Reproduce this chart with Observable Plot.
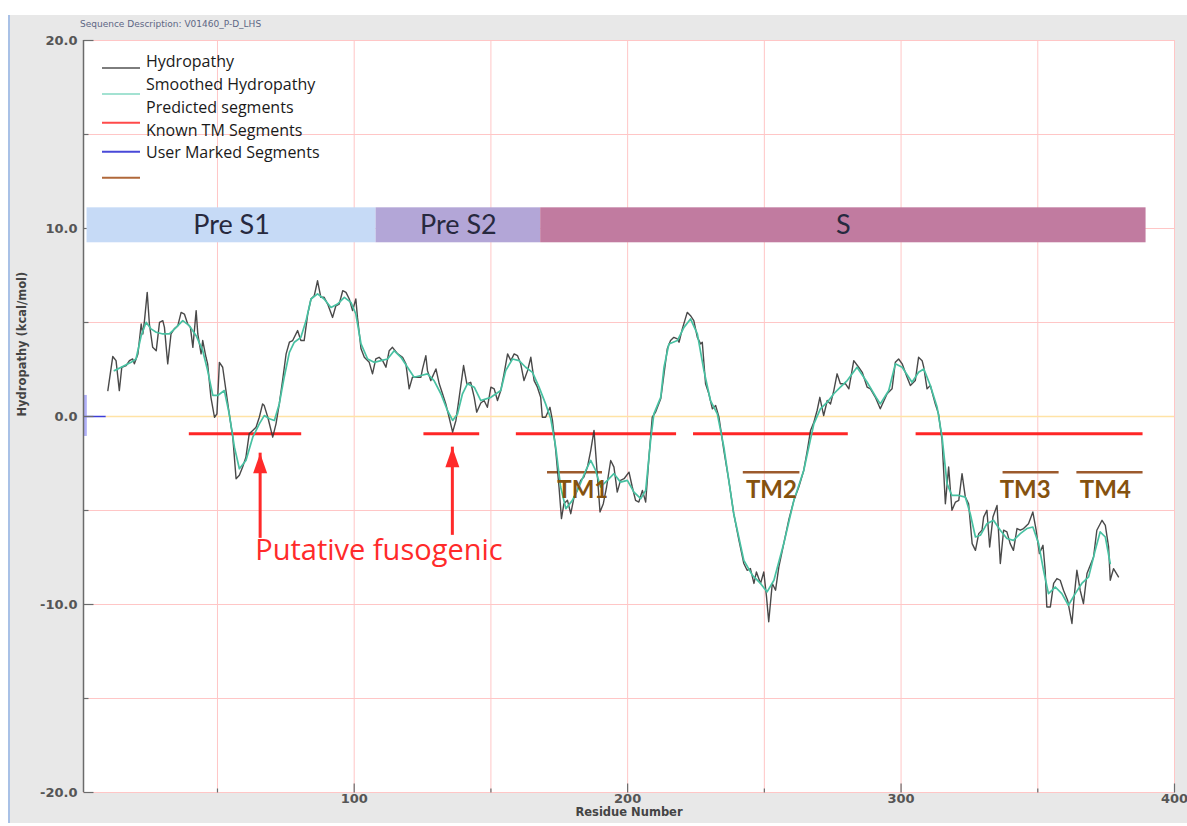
<!DOCTYPE html>
<html>
<head>
<meta charset="utf-8">
<script src="https://cdn.jsdelivr.net/npm/d3@7"></script>
<script src="https://cdn.jsdelivr.net/npm/@observablehq/plot@0.6"></script>
<style>
  html, body { margin: 0; padding: 0; background: #fff; }
  #wrap { position: relative; width: 1187px; height: 826px; overflow: hidden; background: #fff; }
  #panel { position: absolute; left: 8px; top: 15px; width: 1179px; height: 808px; background: #e8e8e8; border-left: 2px solid #a9c1e6; box-sizing: border-box; }
  #desc { position: absolute; left: 80px; top: 19px; font: 9px "DejaVu Sans", sans-serif; color: #5d6684; white-space: nowrap; }
  #chart { position: absolute; left: 0; top: 0; }
  #legend { position: absolute; left: 0; top: 0; pointer-events: none; }
</style>
</head>
<body>
<div id="wrap">
  <div id="panel"></div>
  <div id="desc"></div>
  <div id="chart"></div>
  <svg id="legend" width="400" height="200"></svg>
</div>
<script>
// ---------------- data ----------------
const description = "Sequence Description: V01460_P-D_LHS";
const xTitle = "Residue Number";
const yTitle = "Hydropathy (kcal/mol)";
const xTickLabels = [100, 200, 300, 400];
const xMinorTicks = [50, 150, 250, 350];
const yTickLabels = [-20, -10, 0, 10, 20];
const yMinorTicks = [-15, -5, 5, 15];

// raw hydropathy [residue, kcal/mol]
const hydropathy = [[9.9,1.38],[11.7,3.19],[12.9,2.97],[14.1,1.38],[15.0,2.62],[16.6,2.71],[17.8,2.97],[19.0,3.06],[19.6,2.80],[20.9,3.33],[22.1,4.92],[22.7,4.39],[23.3,5.10],[24.3,6.60],[25.1,4.92],[26.3,3.68],[27.6,3.50],[28.8,5.01],[30.0,5.10],[30.6,4.74],[31.8,2.80],[33.0,4.39],[34.2,4.66],[35.5,4.83],[36.7,5.54],[37.9,5.45],[39.1,4.92],[40.1,4.74],[41.0,3.68],[42.2,5.63],[42.8,4.39],[44.0,3.33],[44.6,4.04],[45.8,3.15],[46.4,2.80],[47.6,1.02],[48.9,-0.04],[49.8,0.14],[50.7,2.88],[51.9,2.62],[53.1,1.38],[54.3,0.14],[55.6,-1.10],[56.8,-3.31],[58.0,-3.13],[59.2,-2.69],[60.4,-2.16],[61.6,-0.92],[62.9,-0.74],[64.1,-0.57],[65.3,-0.04],[66.5,0.67],[67.1,0.58],[68.4,-0.04],[70.2,-1.10],[71.4,-0.39],[72.6,0.67],[73.8,1.91],[75.1,3.33],[76.3,3.95],[77.5,4.04],[79.3,4.57],[80.5,4.04],[81.7,4.04],[83.0,5.45],[84.2,6.25],[85.4,6.43],[86.6,7.22],[87.8,6.34],[89.0,6.34],[90.3,5.98],[92.1,5.27],[93.3,5.89],[94.5,5.98],[95.8,6.69],[97.0,6.60],[98.2,6.25],[99.4,5.63],[100.6,6.25],[101.2,5.27],[102.5,3.60],[103.7,3.15],[105.5,2.88],[106.7,2.27],[107.9,3.06],[109.1,3.15],[110.4,2.97],[111.6,2.62],[112.8,3.50],[114.0,3.68],[115.9,3.33],[117.7,3.15],[118.9,2.80],[120.1,1.47],[121.3,2.09],[123.2,2.09],[124.4,2.09],[125.0,2.53],[126.2,3.24],[126.8,2.44],[128.0,1.91],[129.9,2.53],[131.1,1.74],[132.3,1.21],[133.5,0.67],[134.7,-0.04],[136.0,-0.83],[137.2,-0.21],[138.4,1.02],[140.0,2.71],[141.2,1.74],[142.6,1.82],[143.9,1.02],[144.8,0.23],[146.3,0.72],[147.5,0.85],[148.7,0.49],[150.0,1.56],[151.2,1.47],[152.4,0.85],[153.6,1.38],[154.8,2.27],[156.1,3.33],[157.3,2.97],[158.5,3.33],[159.7,3.24],[160.9,2.80],[162.1,1.91],[163.4,2.44],[164.6,3.15],[165.8,1.91],[167.0,1.56],[168.2,1.02],[168.8,-0.04],[170.0,-0.04],[171.6,0.49],[172.5,-0.21],[173.7,-1.81],[174.9,-3.75],[175.8,-5.43],[176.7,-4.64],[178.0,-4.46],[179.2,-5.17],[180.4,-4.29],[181.6,-3.93],[182.8,-3.40],[184.0,-3.22],[185.3,-2.69],[186.5,-1.81],[187.7,-0.74],[188.7,-2.69],[189.9,-5.08],[191.1,-4.64],[192.3,-3.75],[193.8,-2.34],[195.0,-2.69],[196.2,-4.02],[197.4,-3.40],[198.7,-3.31],[200.5,-2.96],[201.7,-3.75],[202.9,-4.46],[204.1,-4.55],[205.4,-3.93],[206.6,-4.55],[207.8,-2.16],[209.0,-0.04],[210.2,0.23],[212.1,0.94],[213.3,2.27],[214.5,3.60],[215.7,4.04],[216.9,4.21],[218.2,4.13],[218.8,3.95],[220.0,4.66],[221.8,5.54],[223.0,5.36],[224.2,5.10],[225.5,4.21],[226.7,3.86],[227.3,3.95],[228.5,1.74],[229.7,1.21],[231.0,0.41],[232.2,0.58],[233.4,-0.04],[235.2,-1.81],[237.0,-3.40],[238.8,-5.17],[240.7,-6.58],[242.5,-7.82],[243.7,-8.18],[244.9,-8.09],[246.2,-8.88],[247.1,-8.27],[248.6,-8.88],[249.8,-8.27],[250.8,-9.60],[251.6,-10.92],[252.9,-8.88],[254.1,-9.24],[255.3,-8.00],[257.1,-6.76],[258.9,-5.52],[260.8,-4.46],[262.6,-3.75],[264.4,-2.87],[265.7,-1.81],[266.9,-0.74],[268.1,-0.30],[269.3,0.32],[270.3,1.02],[271.7,0.05],[273.0,0.85],[274.2,0.67],[275.4,1.38],[276.6,2.27],[277.8,1.74],[279.7,1.74],[280.9,1.47],[282.7,2.97],[284.5,2.62],[285.8,2.35],[287.6,1.56],[288.8,1.47],[290.6,1.02],[292.4,0.41],[294.9,1.21],[296.7,1.47],[297.9,2.88],[299.1,3.06],[300.4,2.80],[302.2,2.09],[303.4,1.65],[305.2,1.91],[306.4,3.15],[307.7,2.97],[308.3,2.62],[309.5,1.47],[310.7,1.65],[312.5,0.67],[313.7,0.14],[315.0,-1.27],[316.2,-4.64],[317.4,-2.69],[318.6,-4.99],[319.9,-4.55],[321.1,-4.46],[322.3,-3.04],[323.5,-4.29],[324.7,-4.64],[326.0,-6.76],[327.2,-7.12],[328.4,-6.23],[329.6,-6.05],[330.2,-5.35],[331.4,-4.99],[332.4,-6.94],[333.6,-5.35],[335.1,-4.73],[336.3,-7.82],[337.5,-6.05],[338.7,-6.14],[339.9,-6.76],[341.1,-7.12],[342.4,-5.96],[343.6,-6.05],[344.8,-5.96],[346.6,-5.70],[348.2,-5.08],[349.4,-6.05],[350.6,-7.29],[351.9,-6.85],[352.7,-8.18],[353.3,-10.13],[354.6,-10.13],[355.8,-8.88],[357.0,-8.62],[358.2,-8.71],[359.4,-9.24],[360.9,-9.77],[362.5,-11.01],[363.3,-9.60],[364.3,-8.18],[365.5,-9.24],[366.7,-9.95],[368.0,-8.35],[369.2,-7.91],[370.4,-7.47],[371.6,-6.05],[373.5,-5.52],[374.7,-5.79],[375.9,-6.94],[376.5,-8.71],[377.7,-8.09],[379.5,-8.53]];

// smoothed hydropathy [residue, kcal/mol]
const smoothed = [[12.3,2.44],[14.8,2.62],[18.4,2.88],[20.2,3.06],[22.1,4.30],[23.9,5.01],[25.7,4.66],[27.6,4.48],[30.0,4.39],[32.4,4.39],[34.9,4.74],[37.3,5.10],[39.7,4.83],[42.2,4.30],[44.6,3.50],[46.4,2.44],[48.3,1.12],[50.1,1.12],[52.5,1.38],[54.3,0.14],[56.2,-1.63],[58.0,-2.78],[60.4,-2.34],[62.9,-1.10],[65.3,-0.39],[67.1,0.05],[69.0,-0.12],[70.8,-0.21],[72.6,0.67],[74.4,2.09],[76.3,3.41],[78.1,3.95],[80.5,4.21],[82.4,5.10],[84.2,6.25],[86.6,6.52],[89.0,6.25],[91.5,5.80],[93.9,5.98],[96.4,6.34],[98.8,6.07],[100.6,5.45],[102.5,3.86],[104.9,3.06],[107.3,2.88],[109.8,2.97],[112.2,3.06],[114.6,3.50],[117.1,3.15],[119.5,2.62],[121.9,2.09],[124.4,2.18],[126.8,2.27],[129.2,1.91],[131.7,1.21],[134.1,0.32],[136.0,-0.21],[137.8,0.14],[139.6,1.21],[141.4,1.74],[143.9,1.56],[146.3,0.85],[150.0,1.02],[153.6,1.38],[155.4,2.44],[157.9,3.06],[160.3,2.97],[162.7,2.62],[165.2,2.35],[167.6,1.56],[170.0,0.67],[171.9,-0.12],[173.7,-1.63],[175.5,-3.75],[177.4,-4.90],[179.8,-4.46],[182.2,-3.75],[184.7,-2.87],[186.5,-2.34],[188.3,-2.87],[190.1,-3.75],[192.6,-3.40],[195.0,-3.04],[197.4,-3.49],[199.9,-3.40],[202.3,-4.02],[204.8,-4.37],[206.6,-3.93],[208.4,-1.27],[209.6,0.14],[212.1,1.02],[213.3,2.62],[215.1,3.86],[218.2,4.04],[220.6,4.74],[223.0,5.19],[225.5,4.39],[227.9,2.44],[230.3,0.85],[232.8,0.14],[235.2,-1.63],[238.8,-5.17],[242.5,-7.65],[245.6,-8.44],[248.6,-8.88],[251.0,-9.33],[253.5,-8.71],[257.1,-6.76],[260.8,-4.46],[264.4,-2.87],[268.1,-0.39],[270.5,0.41],[273.0,0.76],[275.4,1.21],[277.8,1.56],[280.3,1.91],[283.9,2.62],[287.6,1.82],[291.2,0.94],[292.4,0.67],[295.5,1.38],[297.9,2.80],[300.4,2.62],[304.0,1.82],[306.4,2.35],[308.3,2.53],[310.7,1.65],[313.2,0.49],[315.0,-1.10],[316.8,-3.57],[318.6,-4.20],[321.1,-4.20],[323.5,-4.29],[325.3,-5.17],[327.2,-6.41],[329.0,-6.32],[331.4,-5.70],[333.8,-5.52],[336.3,-6.05],[338.7,-6.49],[341.1,-6.59],[343.6,-6.23],[346.0,-5.96],[348.2,-5.88],[350.3,-6.76],[352.1,-8.18],[353.9,-9.42],[356.4,-9.07],[358.8,-9.42],[361.2,-10.04],[363.7,-9.42],[366.1,-8.88],[368.6,-8.53],[371.0,-7.12],[372.8,-6.14],[374.7,-6.41],[376.5,-7.82]];

// predicted segments (residue ranges) and their level
const predictedStart = [39.7, 125.5, 159.3, 224.1, 305.5];
const predictedEnd   = [80.8, 145.9, 217.9, 280.7, 388.5];
const predictedLevel = -0.92;

// known TM segments
const tmNames = ["TM1", "TM2", "TM3", "TM4"];
const tmStart = [170.7, 242.3, 337.3, 364.3];
const tmEnd   = [190.8, 263.0, 357.8, 388.5];
const tmLevel = -2.96;
const tmLabelResidue = [183.6, 252.6, 345.4, 374.7];
const tmLabelLevel = -3.93;

// protein regions (band)
const regionNames = ["Pre S1", "Pre S2", "S"];
const regionStart = [2.3, 108.0, 168.2];
const regionEnd   = [108.0, 168.2, 389.6];
const bandLow = 9.24, bandHigh = 11.1;

// user marked segment near the start
const userMarkStart = 1, userMarkEnd = 9.3;
const userBarLow = -1.06, userBarHigh = 1.12, userBarEnd = 2.4;

// annotation arrows
const arrowResidue = [65.6, 135.9];
const arrowTip = [-1.95, -1.63];
const arrowTail = [-5.95, -5.79];
const annotationText = "Putative fusogenic";
const annotationResidue = 63.8, annotationLevel = -7.12;

const legendLabels = ["Hydropathy", "Smoothed Hydropathy", "Predicted segments", "Known TM Segments", "User Marked Segments"];

// ---------------- styles ----------------
const C = {
  grid: "#ffc6c6", zero: "#ffe3a6", raw: "#353535", smooth: "#48c1a2",
  pred: "#ff2626", tm: "#9c5a2c", tmText: "#85520f", arrow: "#ff2a2a",
  axis: "#6b6b6b", tick: "#555555", user: "#3d3dd6", userBar: "#8f8ff5",
  region: ["#c6daf6", "#b3a6d7", "#c17ba0"], regionText: "#27293f"
};

// ---------------- custom symbols ----------------
const rad = s => Math.sqrt(s / Math.PI);
const arrowHead = { draw(ctx, size) { const s = rad(size); ctx.moveTo(0, 0); ctx.lineTo(0.7 * s, 2 * s); ctx.lineTo(-0.7 * s, 2 * s); ctx.closePath(); } };
const hTick = { draw(ctx, size) { const s = rad(size); ctx.moveTo(0, 0); ctx.lineTo(s, 0); } };
const vTick = { draw(ctx, size) { const s = rad(size); ctx.moveTo(0, 0); ctx.lineTo(0, -s); } };

// ---------------- tables ----------------
const hydroRows = hydropathy.map(([r, v]) => ({r, v}));
const smoothRows = smoothed.map(([r, v]) => ({r, v}));
const predRows = predictedStart.map((s, i) => ({s, e: predictedEnd[i]}));
const tmRows = tmNames.map((n, i) => ({n, s: tmStart[i], e: tmEnd[i], lx: tmLabelResidue[i]}));
const regionRows = regionNames.map((n, i) => ({n, s: regionStart[i], e: regionEnd[i], c: C.region[i]}));
const arrowRows = arrowResidue.map((x, i) => ({x, tip: arrowTip[i], tail: arrowTail[i]}));

const font = "'Open Sans', 'DejaVu Sans', sans-serif";
const axisFont = "'DejaVu Sans', sans-serif";

const chart = Plot.plot({
  width: 1187, height: 826,
  marginLeft: 83, marginRight: 13, marginTop: 40, marginBottom: 34,
  x: {domain: [1, 400]},
  y: {domain: [-20, 20]},
  style: {background: "transparent", overflow: "visible"},
  marks: [
    Plot.frame({fill: "white", stroke: "none"}),
    Plot.gridX(xMinorTicks.concat(xTickLabels.slice(0, 3)), {stroke: C.grid, strokeOpacity: 1}),
    Plot.gridY(yMinorTicks.concat([-10, 10]), {stroke: C.grid, strokeOpacity: 1}),
    Plot.frame({stroke: C.grid, strokeOpacity: 1}),
    Plot.ruleY([0], {x1: userMarkEnd, x2: 400, stroke: C.zero, strokeWidth: 1.5}),
    Plot.ruleY([0], {x1: userMarkStart, x2: userMarkEnd, stroke: C.user, strokeWidth: 1.5}),
    Plot.rect([0], {x1: userMarkStart, x2: userBarEnd, y1: userBarLow, y2: userBarHigh, fill: C.userBar, fillOpacity: 0.7}),
    Plot.ruleX([1], {stroke: C.axis, strokeWidth: 1.5}),
    // ticks (inward)
    Plot.dot(yTickLabels, {y: d => d, frameAnchor: "left", symbol: hTick, r: 10, stroke: C.axis, fill: "none", strokeWidth: 1.2}),
    Plot.dot(yMinorTicks, {y: d => d, frameAnchor: "left", symbol: hTick, r: 5, stroke: C.axis, fill: "none", strokeWidth: 1.2}),
    Plot.dot(xTickLabels, {x: d => d, frameAnchor: "bottom", symbol: vTick, r: 9, stroke: C.axis, fill: "none", strokeWidth: 1.2}),
    Plot.dot(xMinorTicks, {x: d => d, frameAnchor: "bottom", symbol: vTick, r: 4, stroke: C.axis, fill: "none", strokeWidth: 1.2}),
    Plot.axisY({ticks: yTickLabels, tickSize: 0, tickPadding: 6, tickFormat: d => d.toFixed(1), label: null,
      fontSize: 13, fontWeight: "bold", fontFamily: axisFont, fill: C.tick}),
    Plot.axisX({ticks: xTickLabels, tickSize: 0, tickPadding: 1, tickFormat: d => String(d), label: null,
      fontSize: 13, fontWeight: "bold", fontFamily: axisFont, fill: C.tick}),
    Plot.text([yTitle], {text: d => d, frameAnchor: "left", dx: -61, rotate: -90, fontSize: 11.5, fontWeight: "bold", fontFamily: axisFont, fill: "#444"}),
    Plot.text([xTitle], {text: d => d, frameAnchor: "bottom", dy: 23, fontSize: 11.5, fontWeight: "bold", fontFamily: axisFont, fill: "#444"}),
    // region band
    Plot.rect(regionRows, {x1: "s", x2: "e", y1: bandLow, y2: bandHigh, fill: "c"}),
    Plot.text(regionRows, {x: d => (d.s + d.e) / 2, y: (bandLow + bandHigh) / 2, text: "n", fontSize: 27, fontFamily: "Lato, 'Open Sans', sans-serif", fill: C.regionText}),
    // segments
    Plot.ruleY(predRows, {x1: "s", x2: "e", y: predictedLevel, stroke: C.pred, strokeWidth: 3}),
    Plot.ruleY(tmRows, {x1: "s", x2: "e", y: tmLevel, stroke: C.tm, strokeWidth: 2.5}),
    // hydropathy lines
    Plot.line(hydroRows, {x: "r", y: "v", stroke: C.raw, strokeWidth: 1.4, strokeOpacity: 0.9}),
    Plot.line(smoothRows, {x: "r", y: "v", stroke: C.smooth, strokeWidth: 1.7}),
    // TM labels
    Plot.text(tmRows, {x: "lx", y: tmLabelLevel, text: "n", fontSize: 24, fontWeight: "bold", fontFamily: "Lato, 'Open Sans', sans-serif", fill: C.tmText}),
    // arrows
    Plot.ruleX(arrowRows, {x: "x", y1: "tail", y2: "tip", stroke: C.arrow, strokeWidth: 3, insetTop: 10}),
    Plot.dot(arrowRows, {x: "x", y: "tip", symbol: arrowHead, r: 10, fill: C.arrow, stroke: "none"}),
    Plot.text([annotationText], {x: annotationResidue, y: annotationLevel, text: d => d, textAnchor: "start", fontSize: 29, fontFamily: font, fill: C.arrow})
  ]
});
document.getElementById("chart").appendChild(chart);
document.getElementById("desc").textContent = description;

// legend (inside plot area, top-left)
const lg = d3.select("#legend");
const textBaselines = [67, 89.5, 112.5, 135.5, 158];
const lineYs = [68, 94, 122.7, 151.7, 177.7];
const lineColors = ["#7d7d7d", "#a3e2d2", "#ff4a4a", "#4949d8", "#b0683a"];
lineYs.forEach((y, i) => lg.append("line").attr("x1", 102).attr("x2", 140).attr("y1", y).attr("y2", y)
  .attr("stroke", lineColors[i]).attr("stroke-width", 2));
legendLabels.forEach((t, i) => lg.append("text").attr("x", 146).attr("y", textBaselines[i])
  .attr("font-family", "'Open Sans', sans-serif").attr("font-size", 16).attr("fill", "#1a1a1a").text(t));
</script>
</body>
</html>
